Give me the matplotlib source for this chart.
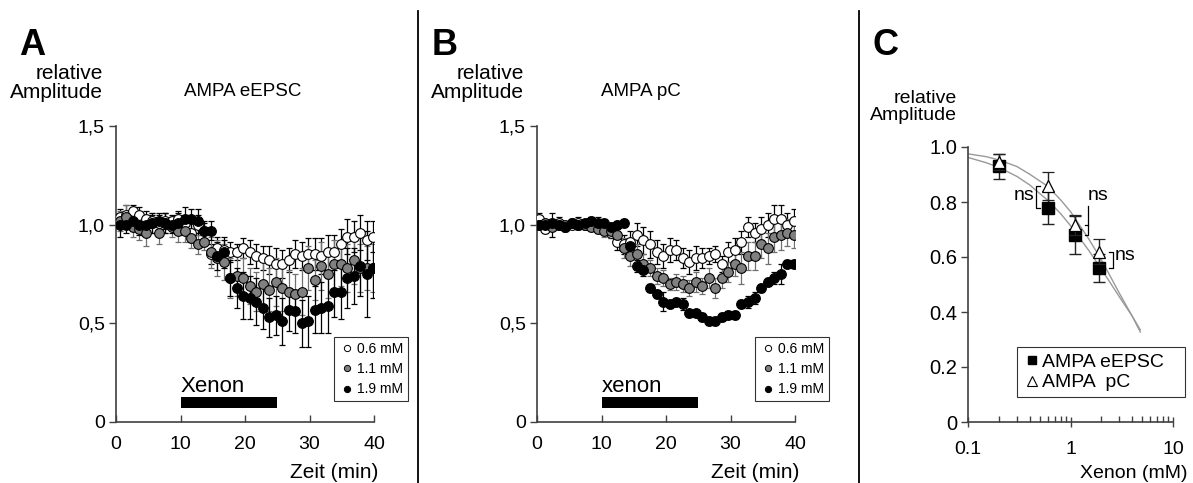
import numpy as np
import matplotlib
matplotlib.use("Agg")
import matplotlib.pyplot as plt
from matplotlib.lines import Line2D
from matplotlib.ticker import NullFormatter, LogLocator

plt.rcParams['font.family'] = ['Liberation Sans', 'DejaVu Sans']

# ---------------- data ----------------
n_points = 40
time_A = np.linspace(0.6, 39.9, n_points)
time_B = np.linspace(0.3, 39.8, n_points)

A_06 = [1.04, 1.05, 1.07, 1.05, 1.03, 1.02, 1.01, 1.02, 1.02, 1.03, 1.01, 0.96, 1.00, 0.97,
        0.85, 0.88, 0.87, 0.86, 0.86, 0.88, 0.86, 0.84, 0.83, 0.82, 0.80, 0.80, 0.82, 0.85,
        0.84, 0.85, 0.85, 0.84, 0.86, 0.86, 0.90, 0.94, 0.94, 0.96, 0.92, 0.94]
A_06_err = [0.04, 0.05, 0.03, 0.04, 0.04, 0.03, 0.04, 0.04, 0.03, 0.04, 0.04, 0.05, 0.05, 0.05,
            0.05, 0.06, 0.05, 0.05, 0.04, 0.05, 0.06, 0.06, 0.06, 0.07, 0.08, 0.07, 0.06, 0.07,
            0.07, 0.08, 0.08, 0.09, 0.09, 0.09, 0.08, 0.09, 0.08, 0.09, 0.10, 0.08]
A_11 = [1.02, 1.04, 0.99, 0.98, 0.96, 1.01, 0.96, 1.01, 0.99, 0.97, 0.97, 0.93, 0.90, 0.91,
        0.86, 0.83, 0.81, 0.73, 0.74, 0.73, 0.69, 0.66, 0.70, 0.67, 0.71, 0.68, 0.66, 0.65,
        0.66, 0.78, 0.72, 0.79, 0.75, 0.80, 0.80, 0.78, 0.82, 0.78, 0.78, 0.78]
A_11_err = [0.05, 0.06, 0.05, 0.06, 0.07, 0.05, 0.06, 0.05, 0.05, 0.06, 0.06, 0.05, 0.05, 0.04,
            0.08, 0.09, 0.09, 0.10, 0.10, 0.10, 0.09, 0.10, 0.12, 0.11, 0.12, 0.12, 0.11, 0.10,
            0.12, 0.11, 0.10, 0.12, 0.12, 0.12, 0.11, 0.12, 0.12, 0.12, 0.11, 0.12]
A_19 = [1.00, 1.00, 1.02, 1.00, 1.00, 1.01, 1.02, 1.01, 1.00, 1.01, 1.03, 1.03, 1.02, 0.97,
        0.97, 0.84, 0.86, 0.73, 0.68, 0.64, 0.63, 0.61, 0.58, 0.53, 0.54, 0.51, 0.57, 0.56,
        0.50, 0.51, 0.57, 0.58, 0.59, 0.66, 0.66, 0.73, 0.74, 0.79, 0.75, 0.78]
A_19_err = [0.06, 0.04, 0.05, 0.05, 0.04, 0.05, 0.04, 0.05, 0.04, 0.05, 0.06, 0.05, 0.06, 0.04,
            0.05, 0.07, 0.08, 0.09, 0.10, 0.12, 0.11, 0.12, 0.11, 0.10, 0.10, 0.12, 0.11, 0.11,
            0.12, 0.13, 0.12, 0.13, 0.14, 0.13, 0.14, 0.15, 0.14, 0.15, 0.22, 0.15]

B_06 = [1.03, 0.98, 1.00, 1.01, 0.99, 1.00, 1.01, 1.00, 1.01, 1.00, 0.98, 0.96, 0.91, 0.90,
        0.91, 0.95, 0.92, 0.90, 0.86, 0.84, 0.87, 0.87, 0.83, 0.81, 0.83, 0.83, 0.84, 0.85,
        0.80, 0.86, 0.87, 0.91, 0.99, 0.96, 0.98, 1.00, 1.03, 1.03, 1.00, 1.02]
B_06_err = [0.03, 0.02, 0.06, 0.03, 0.02, 0.02, 0.03, 0.02, 0.03, 0.04, 0.03, 0.03, 0.04, 0.05,
            0.06, 0.06, 0.07, 0.07, 0.06, 0.06, 0.06, 0.05, 0.05, 0.06, 0.06, 0.05, 0.04, 0.04,
            0.04, 0.05, 0.06, 0.06, 0.05, 0.05, 0.06, 0.06, 0.07, 0.07, 0.06, 0.06]
B_11 = [1.00, 1.01, 0.99, 1.00, 1.00, 1.01, 1.00, 1.00, 0.99, 0.98, 0.97, 0.97, 0.95, 0.88,
        0.84, 0.85, 0.80, 0.78, 0.74, 0.73, 0.70, 0.71, 0.70, 0.68, 0.71, 0.69, 0.73, 0.68,
        0.73, 0.76, 0.80, 0.78, 0.84, 0.84, 0.90, 0.88, 0.94, 0.95, 0.96, 0.95]
B_11_err = [0.02, 0.02, 0.02, 0.02, 0.02, 0.02, 0.02, 0.02, 0.02, 0.02, 0.03, 0.04, 0.05, 0.05,
            0.05, 0.05, 0.05, 0.04, 0.04, 0.04, 0.03, 0.04, 0.04, 0.04, 0.05, 0.04, 0.05, 0.05,
            0.05, 0.05, 0.06, 0.08, 0.07, 0.07, 0.07, 0.08, 0.08, 0.08, 0.07, 0.07]
B_19 = [1.00, 1.00, 1.01, 1.00, 0.99, 1.01, 1.00, 1.01, 1.02, 1.01, 1.01, 0.99, 1.00, 1.01,
        0.89, 0.79, 0.77, 0.68, 0.65, 0.61, 0.60, 0.61, 0.60, 0.55, 0.55, 0.53, 0.51, 0.51,
        0.53, 0.54, 0.54, 0.60, 0.61, 0.63, 0.68, 0.71, 0.73, 0.75, 0.80, 0.80]
B_19_err = [0.02, 0.02, 0.02, 0.02, 0.02, 0.02, 0.02, 0.02, 0.02, 0.02, 0.02, 0.02, 0.02, 0.02,
            0.02, 0.03, 0.03, 0.02, 0.02, 0.05, 0.02, 0.02, 0.03, 0.02, 0.02, 0.02, 0.02, 0.02,
            0.02, 0.02, 0.02, 0.02, 0.03, 0.03, 0.02, 0.02, 0.03, 0.05, 0.02, 0.02]

xenon_period = (10, 25)

conc_labels = ['0.6 mM', '1.1 mM', '1.9 mM']
conc_colors = ['white', '#808080', 'black']
err_colors = ['black', '#707070', 'black']

doses = [0.2, 0.6, 1.1, 1.9]
eEPSC = [0.93, 0.78, 0.68, 0.56]
eEPSC_err = [0.045, 0.06, 0.07, 0.05]
pC = [0.945, 0.858, 0.717, 0.62]
pC_err = [0.03, 0.05, 0.036, 0.045]

fit_x = [0.1, 0.15, 0.2, 0.3, 0.4, 0.6, 0.8, 1.0, 1.5, 2.0, 3.0, 4.0, 4.8]
fit_eEPSC = [0.962, 0.943, 0.926, 0.893, 0.862, 0.806, 0.758, 0.714, 0.625, 0.556, 0.455, 0.385, 0.327]
fit_pC = [0.975, 0.965, 0.953, 0.929, 0.901, 0.857, 0.808, 0.765, 0.667, 0.59, 0.468, 0.385, 0.335]

# ---------------- figure ----------------
W, H = 1193, 483
fig = plt.figure(figsize=(W / 100, H / 100), dpi=100)

def fx(px):
    return px / W

def fy(py):
    return 1 - py / H

spine_col = '#404040'

def style_axes(ax):
    for s in ['top', 'right']:
        ax.spines[s].set_visible(False)
    for s in ['left', 'bottom']:
        ax.spines[s].set_color(spine_col)
        ax.spines[s].set_linewidth(1.2)
    ax.tick_params(axis='y', direction='out', length=5, width=1.0, color=spine_col,
                   labelsize=14, pad=3)
    ax.tick_params(axis='x', direction='in', length=5, width=1.0, color=spine_col,
                   labelsize=14, pad=10)

def time_panel(left_px, t, series, errs, title, title_x, bar_label):
    ax = fig.add_axes([fx(left_px), fy(422), fx(258), 296 / H])
    style_axes(ax)
    ax.set_xlim(0, 40)
    ax.set_ylim(0, 1.5)
    ax.set_xticks([0, 10, 20, 30, 40])
    ax.set_yticks([0, 0.5, 1.0, 1.5])
    ax.set_yticklabels(['0', '0,5', '1,0', '1,5'])
    handles = []
    for vals, err, fc, ec, lab in zip(series, errs, conc_colors, err_colors, conc_labels):
        ax.errorbar(t, vals, yerr=err, fmt='none', ecolor=ec, elinewidth=0.9,
                    capsize=2.5, capthick=0.9, zorder=2)
        ax.plot(t, vals, 'o', ms=7, mfc=fc, mec='black', mew=0.8, ls='none', zorder=3)
        handles.append(Line2D([], [], marker='o', ls='none', ms=4.5, mfc=fc,
                              mec='black', mew=0.7, label=lab))
    ax.fill_between(list(xenon_period), 0.072, 0.125, color='black', lw=0, zorder=1)
    ax.text(xenon_period[0], 0.15, bar_label, fontsize=16, ha='left', va='baseline')
    leg = ax.legend(handles=handles, loc='lower left', bbox_to_anchor=(0.845, 0.07),
                    fontsize=10, frameon=True, fancybox=False, edgecolor='black',
                    handletextpad=0.1, handlelength=1.2, labelspacing=0.45,
                    borderpad=0.35, borderaxespad=0)
    leg.get_frame().set_linewidth(0.8)
    leg.set_zorder(5)
    fig.text(fx(left_px + 262), fy(478), 'Zeit (min)', fontsize=15, ha='right', va='baseline')
    fig.text(fx(title_x), fy(96), title, fontsize=13.5, ha='center', va='baseline')
    fig.text(fx(left_px - 13), fy(83), 'relative\nAmplitude', fontsize=15, ha='right',
             va='center', multialignment='right', linespacing=1.05)
    return ax

time_panel(116, time_A, [A_06, A_11, A_19], [A_06_err, A_11_err, A_19_err],
           'AMPA eEPSC', 243, 'Xenon')
time_panel(537, time_B, [B_06, B_11, B_19], [B_06_err, B_11_err, B_19_err],
           'AMPA pC', 641, 'xenon')

# panel letters
fig.text(fx(19), fy(55), 'A', fontsize=26, fontweight='bold', ha='left', va='baseline')
fig.text(fx(432), fy(55), 'B', fontsize=26, fontweight='bold', ha='left', va='baseline')
fig.text(fx(872), fy(55), 'C', fontsize=26, fontweight='bold', ha='left', va='baseline')

# ---------------- panel C ----------------
axc = fig.add_axes([fx(968), fy(422), fx(205), 275 / H])
style_axes(axc)
axc.set_xscale('log')
axc.set_xlim(0.1, 10)
axc.set_ylim(0, 1.0)
axc.set_yticks([0, 0.2, 0.4, 0.6, 0.8, 1.0])
axc.set_yticklabels(['0', '0.2', '0.4', '0.6', '0.8', '1.0'])
axc.set_xticks([0.1, 1, 10])
axc.set_xticklabels(['0.1', '1', '10'])
axc.xaxis.set_minor_locator(LogLocator(base=10, subs=np.arange(2, 10)))
axc.xaxis.set_minor_formatter(NullFormatter())
axc.tick_params(axis='x', which='major', direction='inout', length=7)
axc.tick_params(axis='x', which='minor', direction='in', length=4, width=1.0, color=spine_col)
axc.tick_params(axis='y', labelsize=14.5)

axc.plot(fit_x, fit_eEPSC, color='#999999', lw=1.0, zorder=1)
axc.plot(fit_x, fit_pC, color='#999999', lw=1.0, zorder=1)
axc.errorbar(doses, eEPSC, yerr=eEPSC_err, fmt='s', ms=8.5, mfc='black', mec='black',
             ecolor='#222222', elinewidth=1.0, capsize=4, capthick=1.0, zorder=3,
             label='AMPA eEPSC')
axc.errorbar(doses, pC, yerr=pC_err, fmt='^', ms=9, mfc='white', mec='black', mew=0.9,
             ecolor='#222222', elinewidth=1.0, capsize=4, capthick=1.0, zorder=4,
             label='AMPA  pC')

# significance brackets
bk = dict(color='black', lw=0.9)
axc.plot([0.50, 0.46, 0.46, 0.50], [eEPSC[1], eEPSC[1], pC[1], pC[1]], **bk)
axc.text(0.44, 0.822, 'ns', fontsize=14, ha='right', va='center')
axc.plot([1.39, 1.49, 1.49], [eEPSC[2], eEPSC[2], 0.785], **bk)
axc.plot([1.39, 1.49], [pC[2], pC[2]], **bk)
axc.text(1.46, 0.822, 'ns', fontsize=14, ha='left', va='center')
axc.plot([2.40, 2.60, 2.60, 2.40], [eEPSC[3], eEPSC[3], pC[3], pC[3]], **bk)
axc.text(2.68, 0.605, 'ns', fontsize=14, ha='left', va='center')

h1 = Line2D([], [], marker='s', ls='none', ms=6, mfc='black', mec='black', label='AMPA eEPSC')
h2 = Line2D([], [], marker='^', ls='none', ms=6.5, mfc='white', mec='black', mew=0.8,
            label='AMPA  pC')
legc = axc.legend(handles=[h1, h2], loc='lower left', bbox_to_anchor=(0.24, 0.09, 0.82, 0.19),
                  mode='expand', fontsize=14, frameon=True, fancybox=False, edgecolor='black',
                  handletextpad=0.05, handlelength=0.9, labelspacing=0.15,
                  borderpad=0.3, borderaxespad=0)
legc.get_frame().set_linewidth(0.8)

fig.text(fx(1187), fy(478), 'Xenon (mM)', fontsize=14, ha='right', va='baseline')
fig.text(fx(957), fy(107), 'relative\nAmplitude', fontsize=14, ha='right', va='center',
         multialignment='right', linespacing=1.05)

# divider lines
for xp in (418, 859):
    fig.add_artist(Line2D([fx(xp), fx(xp)], [0, fy(11)], transform=fig.transFigure,
                          color='black', lw=1.3))

fig.savefig('out.png', dpi=100)
